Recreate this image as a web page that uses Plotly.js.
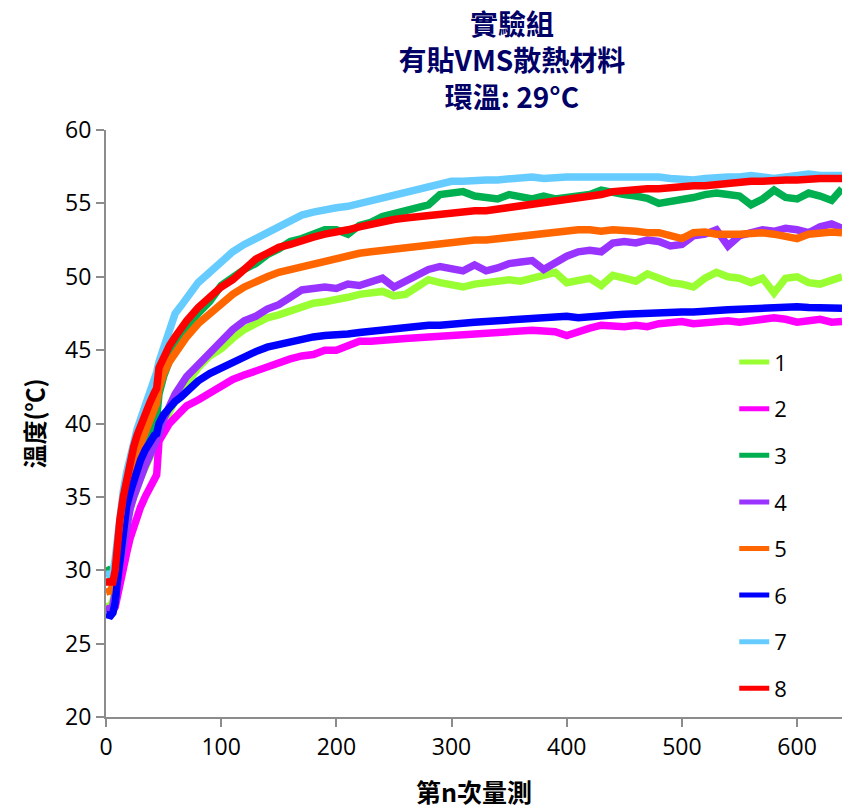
<!DOCTYPE html>
<html>
<head>
<meta charset="utf-8">
<script src="https://cdn.plot.ly/plotly-3.0.1.min.js"></script>
<style>html,body{margin:0;padding:0;background:#fff;}#chart{width:842px;height:809px;}</style>
</head>
<body>
<div id="chart"></div>
<script>
// sample positions (measurement index n)
const xN = [0,2,4,6,8,10,12,15,18,21,24,27,30,34,38,42,44,46,50,55,60,65,70,
  80,90,100,110,120,130,140,150,160,170,180,190,200,
  210,220,230,240,250,260,270,280,290,300,310,320,330,340,350,360,370,380,390,400,410,
  420,430,440,450,460,470,480,490,500,510,520,530,540,550,560,570,580,590,600,610,620,630,
  639];

const s1 = [27.5,27.5,27.6,27.9,28.8,30.0,31.0,32.3,33.4,34.3,35.1,35.8,36.3,37.0,37.6,38.3,38.7,39.3,40.0,40.9,41.6,42.2,42.8,
  43.8,44.6,45.1,45.8,46.4,46.8,47.2,47.4,47.7,48.0,48.2,48.3,48.4,
  48.6,48.8,48.9,49.0,48.7,48.8,49.3,49.8,49.6,49.5,49.3,49.5,49.6,49.7,49.8,49.7,49.9,50.0,50.3,49.6,49.8,
  49.9,49.4,50.1,49.9,49.7,50.2,49.9,49.6,49.5,49.3,49.9,50.3,50.0,49.9,49.6,49.9,48.9,49.9,50.0,49.6,49.5,49.7,
  50.0];
const s2 = [27.4,27.4,27.3,27.3,27.5,28.3,29.3,30.3,31.2,32.2,33.0,33.6,34.3,35.0,35.7,36.2,36.5,38.8,39.4,40.0,40.4,40.8,41.2,
  41.6,42.1,42.6,43.0,43.3,43.6,43.9,44.2,44.4,44.6,44.7,45.0,45.0,
  45.3,45.6,45.6,45.7,45.8,45.8,45.85,45.9,45.9,45.95,46.0,46.05,46.15,46.25,46.3,46.35,46.35,46.3,46.25,46.0,46.3,
  46.5,46.7,46.6,46.6,46.7,46.6,46.8,46.9,46.95,46.8,46.85,46.9,47.0,46.9,47.0,47.1,47.2,47.1,46.9,47.0,47.1,46.9,
  46.95];
const s3 = [30.2,29.9,29.5,29.3,30.0,31.3,32.5,34.0,35.3,36.2,37.0,37.6,38.1,38.7,39.2,40.0,40.4,42.0,43.2,44.4,45.3,46.0,46.6,
  47.5,48.3,49.4,50.0,50.5,50.9,51.5,51.9,52.4,52.6,52.9,53.2,53.2,
  52.9,53.5,53.7,54.1,54.3,54.5,54.6,54.9,55.6,55.7,55.8,55.5,55.4,55.3,55.6,55.5,55.3,55.5,55.3,55.4,55.45,
  55.6,55.9,55.7,55.6,55.5,55.35,55.0,55.1,55.2,55.4,55.6,55.7,55.6,55.5,54.9,55.3,55.9,55.4,55.3,55.7,55.5,55.2,
  56.0];
const s4 = [27.3,27.3,27.4,27.6,28.5,29.8,30.8,32.2,33.3,34.2,35.0,35.7,36.3,37.1,37.8,38.5,38.9,39.3,40.3,41.2,42.0,42.6,43.2,
  44.0,44.8,45.6,46.4,47.0,47.3,47.8,48.1,48.6,49.1,49.2,49.3,49.2,
  49.5,49.4,49.7,49.9,49.3,49.7,50.1,50.5,50.7,50.6,50.4,50.8,50.4,50.6,50.9,51.0,51.1,50.5,51.0,51.4,51.7,
  51.8,51.7,52.3,52.4,52.3,52.5,52.4,52.1,52.2,52.8,52.9,53.2,52.1,52.8,53.0,53.2,53.1,53.3,53.2,53.0,53.4,53.6,
  53.3];
const s5 = [28.5,28.5,28.6,29.0,30.2,31.6,32.8,34.3,35.5,36.5,37.3,38.0,38.6,39.4,40.1,40.9,41.4,42.4,43.4,44.2,44.8,45.4,45.9,
  46.8,47.5,48.2,48.8,49.3,49.7,50.0,50.3,50.5,50.7,50.9,51.1,51.3,
  51.5,51.6,51.7,51.8,51.9,52.0,52.0,52.1,52.2,52.3,52.4,52.5,52.5,52.6,52.7,52.8,52.8,52.9,53.1,53.2,53.2,
  53.2,53.1,53.2,53.2,53.1,53.0,53.0,52.8,52.6,53.0,53.05,52.9,52.85,52.9,52.95,53.0,52.9,52.7,52.6,52.9,53.0,53.05,
  53.0];
const s6 = [27.0,26.9,26.9,27.1,27.8,29.3,30.9,32.9,34.4,35.3,36.1,36.9,37.5,38.2,38.8,39.2,39.3,40.0,40.6,41.1,41.5,41.8,42.2,
  42.9,43.4,43.8,44.2,44.6,44.9,45.2,45.4,45.6,45.8,45.9,46.0,46.0,
  46.1,46.2,46.3,46.35,46.4,46.5,46.6,46.7,46.7,46.8,46.85,46.9,46.95,47.0,47.05,47.1,47.2,47.2,47.25,47.3,47.2,
  47.3,47.35,47.4,47.45,47.5,47.5,47.5,47.55,47.6,47.6,47.7,47.7,47.75,47.8,47.8,47.85,47.9,47.95,47.95,47.9,47.85,47.85,
  47.85];
const s7 = [29.7,29.7,29.7,29.8,30.8,32.5,33.8,35.4,36.7,37.8,38.8,39.6,40.3,41.2,42.0,42.9,43.5,44.2,45.2,46.6,47.5,48.0,48.6,
  49.6,50.3,51.0,51.7,52.2,52.6,53.1,53.5,53.9,54.2,54.4,54.6,54.7,
  54.8,55.0,55.2,55.35,55.6,55.8,56.0,56.2,56.4,56.5,56.5,56.6,56.6,56.6,56.7,56.7,56.8,56.7,56.8,56.8,56.8,
  56.8,56.85,56.9,56.9,56.8,56.9,56.8,56.7,56.6,56.6,56.7,56.8,56.8,56.8,56.9,56.8,56.7,56.8,56.9,57.0,56.9,56.9,
  56.9];
const s8 = [29.2,29.2,29.1,29.2,30.0,32.0,33.4,35.0,36.3,37.4,38.4,39.2,39.9,40.7,41.4,42.1,42.4,43.8,44.5,45.3,45.9,46.5,47.0,
  47.9,48.6,49.3,49.8,50.5,51.2,51.6,52.0,52.2,52.5,52.7,52.9,53.0,
  53.2,53.4,53.6,53.8,53.9,54.0,54.1,54.2,54.3,54.3,54.4,54.5,54.5,54.6,54.7,54.8,54.9,55.0,55.1,55.2,55.3,
  55.5,55.6,55.8,55.9,55.9,56.0,56.0,56.1,56.1,56.2,56.2,56.3,56.35,56.4,56.5,56.5,56.6,56.6,56.6,56.7,56.7,56.7,
  56.7];

const seriesNames = ['1','2','3','4','5','6','7','8'];
const seriesValues = [s1,s2,s3,s4,s5,s6,s7,s8];
const seriesColors = ['#99ff33','#ff00ff','#00b050','#9933ff','#ff6600','#0000ff','#66ccff','#ff0000'];

const xTicks = [0,100,200,300,400,500,600];
const yTicks = [20,25,30,35,40,45,50,55,60];

const FONT = 'Open Sans, "Noto Sans CJK TC", sans-serif';
const CJK = '"Noto Sans CJK TC", "Open Sans", sans-serif';

const traces = seriesValues.map((v, i) => ({
  type: 'scatter', mode: 'lines', x: xN, y: v, name: seriesNames[i],
  legendgroup: 'g' + i,
  line: {color: seriesColors[i], width: 7.5}
}));

const axisCommon = {
  showgrid: false, zeroline: false, showline: true, linecolor: '#8c8c8c', linewidth: 2,
  ticks: 'outside', ticklen: 8, tickwidth: 2, tickcolor: '#8c8c8c',
  tickfont: {family: FONT, size: 23, color: '#000'}, automargin: false
};

const layout = {
  width: 842, height: 809,
  paper_bgcolor: '#fff', plot_bgcolor: '#fff',
  margin: {l: 106, r: 0, t: 130, b: 92},
  title: {
    text: '實驗組<br>有貼VMS散熱材料<br>環溫: 29°C',
    font: {family: CJK, size: 28, color: '#000066', weight: 'bold'},
    xref: 'container', x: 0.608, xanchor: 'center',
    yref: 'container', y: 0.957, yanchor: 'top'
  },
  xaxis: Object.assign({}, axisCommon, {
    range: [0, 639], tickvals: xTicks,
    title: {text: '第n次量測', font: {family: CJK, size: 25, color: '#000', weight: 'bold'}, standoff: 28}
  }),
  yaxis: Object.assign({}, axisCommon, {
    range: [20, 60], tickvals: yTicks,
    title: {text: '溫度(℃)', font: {family: CJK, size: 24, color: '#000', weight: 'bold'}, standoff: 14}
  }),
  showlegend: true,
  legend: {
    x: 0.8536, xanchor: 'left', y: 0.64, yanchor: 'top',
    font: {family: FONT, size: 22, color: '#000'},
    bgcolor: 'rgba(0,0,0,0)', borderwidth: 0,
    tracegroupgap: 15, traceorder: 'grouped', itemsizing: 'constant'
  }
};

Plotly.newPlot('chart', traces, layout, {displayModeBar: false, staticPlot: true});
</script>
</body>
</html>
